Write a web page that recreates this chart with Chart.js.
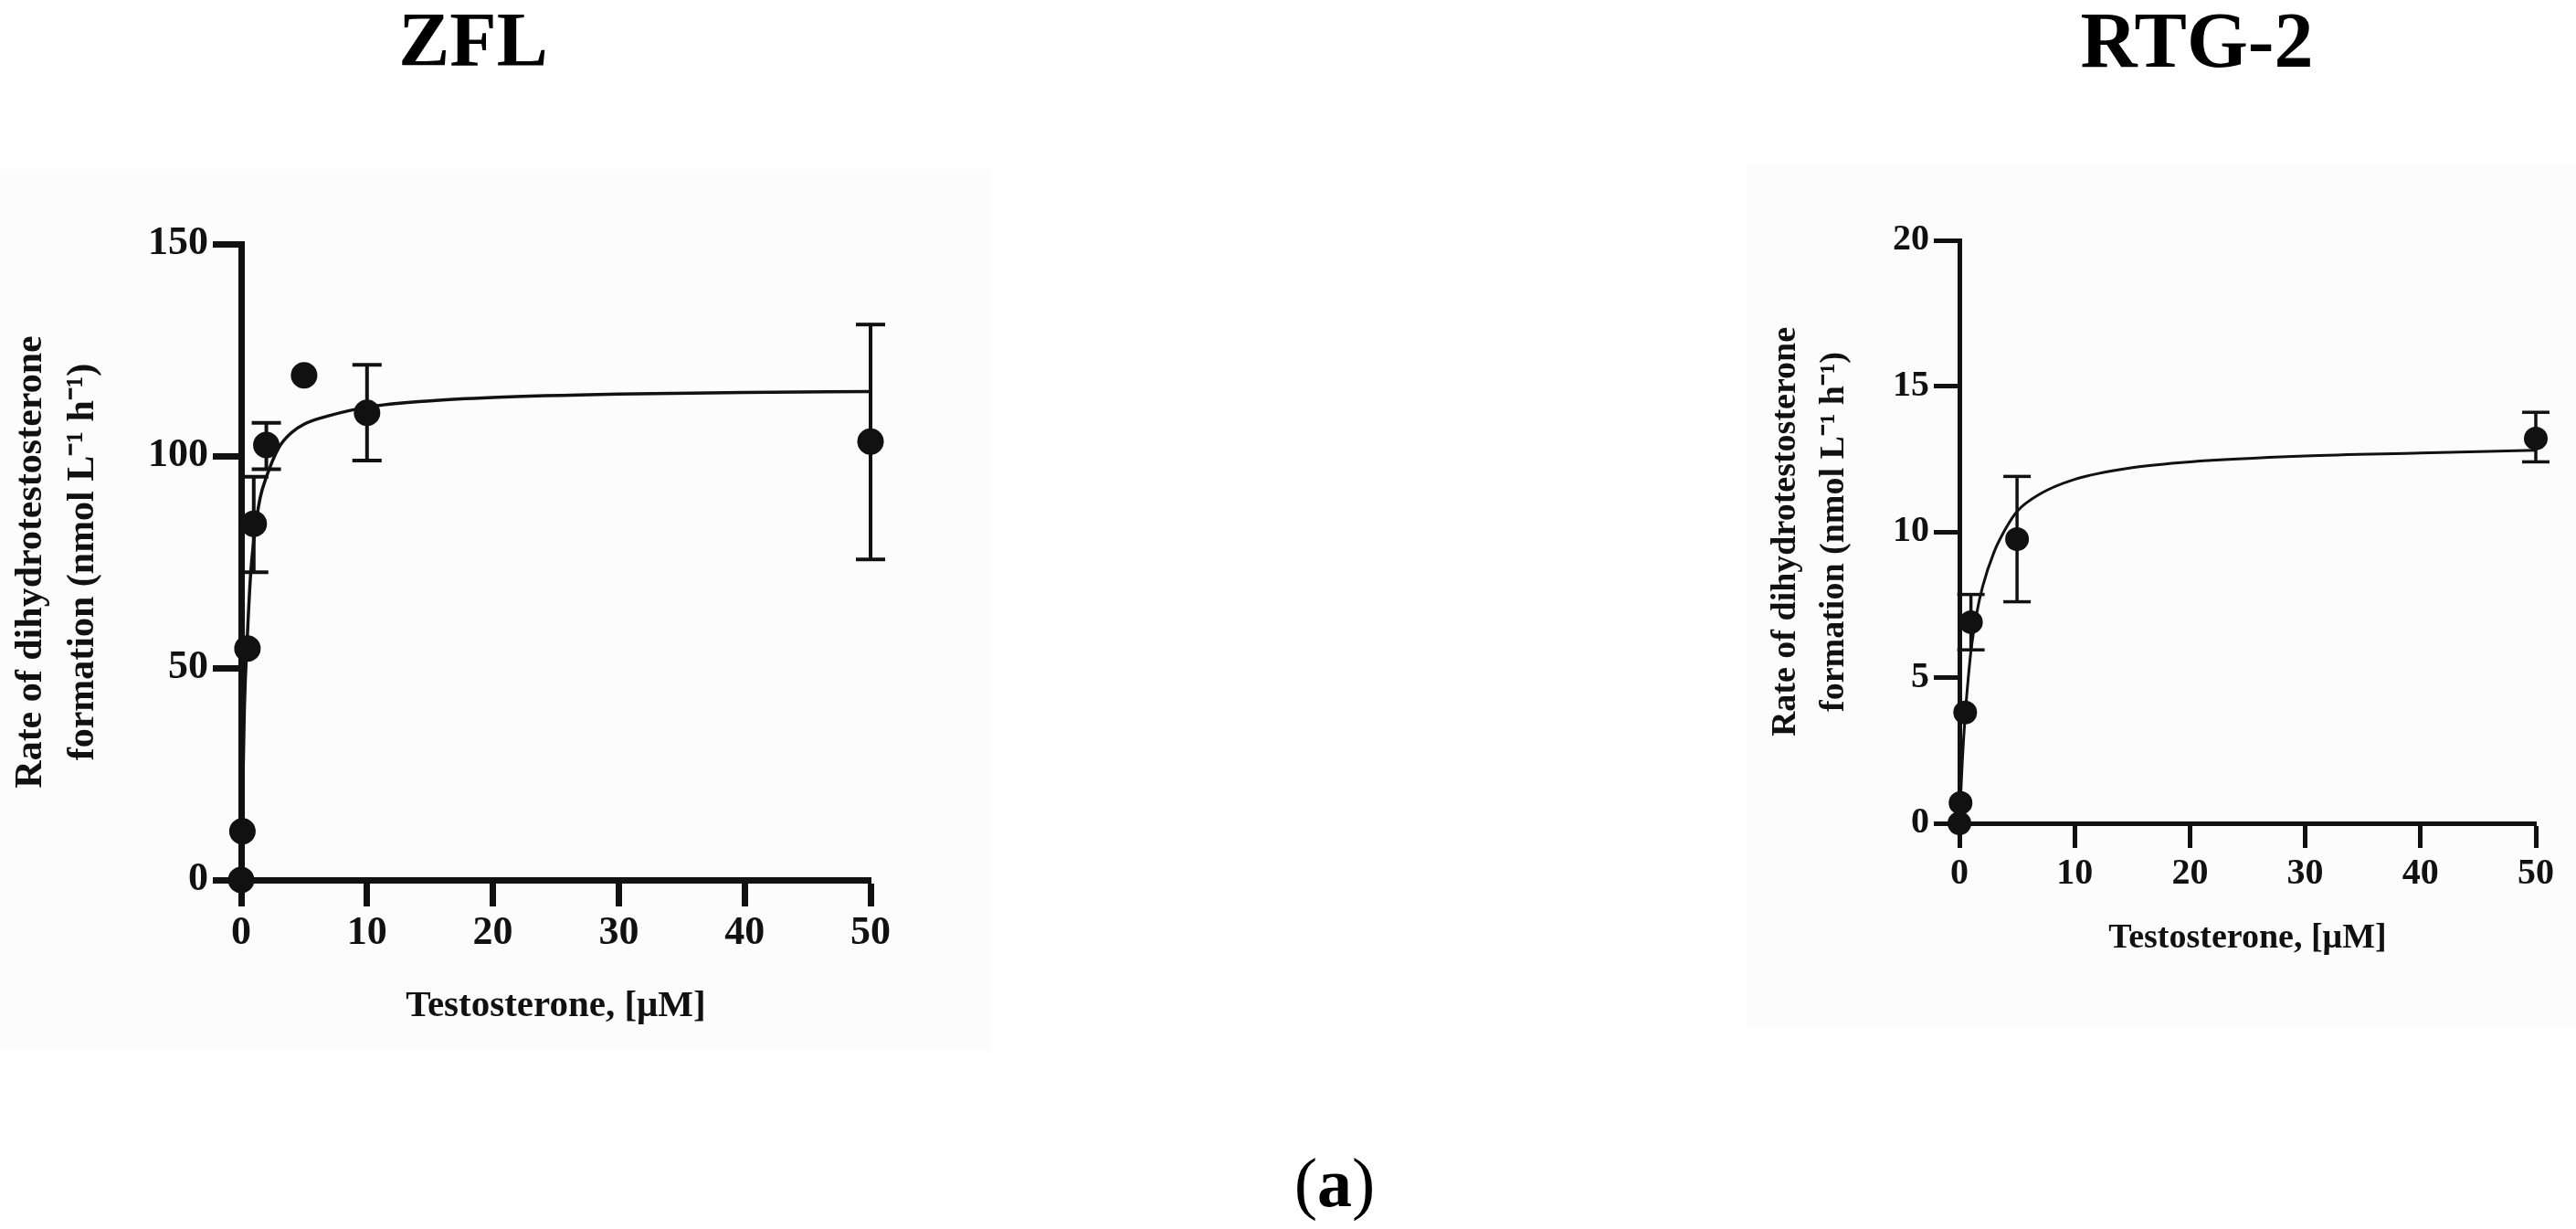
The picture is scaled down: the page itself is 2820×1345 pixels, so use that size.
<!DOCTYPE html>
<html>
<head>
<meta charset="utf-8">
<script src="https://cdn.jsdelivr.net/npm/chart.js@4.4.1/dist/chart.umd.min.js"></script>
<style>
  html, body { margin: 0; padding: 0; background: #fff; }
  body { width: 2820px; height: 1345px; position: relative; overflow: hidden; font-family: "Liberation Serif", "Times New Roman", serif; color: #000; }
  .panel-bg { position: absolute; background: #fcfcfc; }
  .wrap { position: absolute; }
  .label { position: absolute; font-weight: bold; transform: translate(-50%, -50%); white-space: nowrap; line-height: 1; }
</style>
</head>
<body>
<div class="panel-bg" style="left:0;top:185px;width:1085px;height:965px"></div>
<div class="panel-bg" style="left:1912px;top:180px;width:908px;height:944px"></div>
<div class="label" style="left:518px;top:44px;font-size:84px">ZFL</div>
<div class="label" style="left:2405px;top:44px;font-size:86px">RTG-2</div>
<div class="label" style="left:1461px;top:1294px;font-size:76px;font-weight:normal">(<b>a</b>)</div>
<div class="wrap" style="left:0;top:0;width:1100px;height:1150px"><canvas id="zfl"></canvas></div>
<div class="wrap" style="left:1880px;top:0;width:940px;height:1150px"><canvas id="rtg"></canvas></div>
<script>
// ZFL measured points
const zflConc = [0, 0.1, 0.5, 1, 2, 5, 10, 50];
const zflRate = [0, 11.5, 54.6, 84, 102.6, 119, 110.2, 103.4];
// ZFL error bars
const zflErrConc = [1, 2, 10, 50];
const zflErrLow = [72.6, 96.9, 98.9, 75.6];
const zflErrHigh = [95.1, 107.8, 121.5, 131];
// ZFL fitted curve
const zflFitConc = [0, 0.25, 0.5, 0.75, 1, 1.5, 2, 3, 4, 5, 7, 10, 15, 20, 30, 40, 50];
const zflFitRate = [0, 40, 58, 72, 80, 90, 95, 102, 105.5, 107.5, 109.5, 111.5, 113, 113.8, 114.6, 115, 115.2];

// RTG-2 measured points
const rtgConc = [0, 0.1, 0.5, 1, 5, 50];
const rtgRate = [0, 0.7, 3.8, 6.9, 9.75, 13.2];
const rtgErrConc = [1, 5, 50];
const rtgErrLow = [5.95, 7.6, 12.4];
const rtgErrHigh = [7.85, 11.9, 14.1];
const rtgFitConc = [0, 0.25, 0.5, 0.75, 1, 1.5, 2, 3, 4, 5, 7, 10, 15, 20, 30, 40, 50];
const rtgFitRate = [0, 2.1, 3.7, 4.9, 5.9, 7.2, 8.1, 9.3, 10.1, 10.7, 11.3, 11.8, 12.2, 12.4, 12.6, 12.7, 12.8];

const xTicks = [0, 10, 20, 30, 40, 50];
const xTitle = "Testosterone, [\u03bcM]";
const yTitle = ["Rate of dihydrotestosterone", "formation (nmol L\u207b\u00b9 h\u207b\u00b9)"];

const ink = "#111";
const family = '"Liberation Serif", "Times New Roman", serif';

function pairs(xs, ys) {
  return xs.map((x, i) => ({ x, y: ys[i] }));
}

function makePanel(canvas, d, s) {
  const datasets = [
    { data: pairs(d.fitX, d.fitY), showLine: true, borderColor: ink, borderWidth: s.curveWidth, pointRadius: 0, cubicInterpolationMode: "monotone", clip: false },
    { data: pairs(d.x, d.y), showLine: false, pointRadius: s.dot, pointBackgroundColor: ink, pointBorderWidth: 0, clip: false }
  ];
  d.errX.forEach((x, i) => {
    datasets.push({
      data: [{ x, y: d.errLo[i] }, { x, y: d.errHi[i] }],
      showLine: true, borderColor: ink, borderWidth: s.errWidth,
      pointStyle: "line", pointRadius: s.cap, pointBorderWidth: s.errWidth, pointBorderColor: ink, clip: false
    });
  });

  return new Chart(canvas, {
    type: "scatter",
    data: { datasets },
    options: {
      responsive: true,
      maintainAspectRatio: false,
      animation: false,
      events: [],
      layout: { padding: s.pad },
      plugins: { legend: { display: false }, tooltip: { enabled: false } },
      scales: {
        x: {
          type: "linear", min: 0, max: 50,
          afterBuildTicks: (axis) => { axis.ticks = xTicks.map((v) => ({ value: v })); },
          ticks: { color: ink, padding: s.xTickPad, font: { family, size: s.tickFont, weight: "bold" } },
          grid: { drawOnChartArea: false, drawTicks: true, tickLength: s.xTickLen, tickWidth: s.axisWidth, tickColor: ink },
          border: { display: true, color: ink, width: s.axisWidth },
          title: { display: true, text: xTitle, color: ink, font: { family, size: s.xTitleFont, weight: "bold" }, padding: { top: 0, bottom: s.xTitlePad } },
          afterFit: (axis) => { axis.height = s.xHeight; axis.paddingLeft = 0; axis.paddingRight = 0; }
        },
        y: {
          type: "linear", min: 0, max: d.yMax,
          afterBuildTicks: (axis) => { axis.ticks = d.yTicks.map((v) => ({ value: v })); },
          ticks: { color: ink, padding: s.yTickPad, font: { family, size: s.tickFont, weight: "bold" } },
          grid: { drawOnChartArea: false, drawTicks: true, tickLength: s.yTickLen, tickWidth: s.axisWidth, tickColor: ink },
          border: { display: true, color: ink, width: s.axisWidth },
          title: { display: true, text: yTitle, color: ink, font: { family, size: s.yTitleFont, weight: "bold", lineHeight: s.yTitleLine }, padding: { top: s.yTitlePad, bottom: 0 } },
          afterFit: (axis) => { axis.width = s.yWidth; axis.paddingTop = 0; axis.paddingBottom = 0; }
        }
      }
    }
  });
}

makePanel(document.getElementById("zfl"),
  { x: zflConc, y: zflRate, errX: zflErrConc, errLo: zflErrLow, errHi: zflErrHigh, fitX: zflFitConc, fitY: zflFitRate, yMax: 150, yTicks: [0, 50, 100, 150] },
  { pad: { left: 0, top: 267, right: 147, bottom: 0 }, yWidth: 264, xHeight: 187,
    tickFont: 44, xTickPad: 3, yTickPad: 5, xTickLen: 29, yTickLen: 31, axisWidth: 7,
    xTitleFont: 41, xTitlePad: 24, yTitleFont: 42, yTitleLine: 57 / 42, yTitlePad: 5.5,
    dot: 14.5, cap: 16, errWidth: 4, curveWidth: 3.5 });

makePanel(document.getElementById("rtg"),
  { x: rtgConc, y: rtgRate, errX: rtgErrConc, errLo: rtgErrLow, errHi: rtgErrHigh, fitX: rtgFitConc, fitY: rtgFitRate, yMax: 20, yTicks: [0, 5, 10, 15, 20] },
  { pad: { left: 0, top: 263, right: 44, bottom: 0 }, yWidth: 265, xHeight: 249,
    tickFont: 40, xTickPad: 5, yTickPad: 5, xTickLen: 27, yTickLen: 28, axisWidth: 5,
    xTitleFont: 38, xTitlePad: 100, yTitleFont: 38, yTitleLine: 53 / 38, yTitlePad: 48.5,
    dot: 13, cap: 15, errWidth: 3.5, curveWidth: 3 });
</script>
</body>
</html>
